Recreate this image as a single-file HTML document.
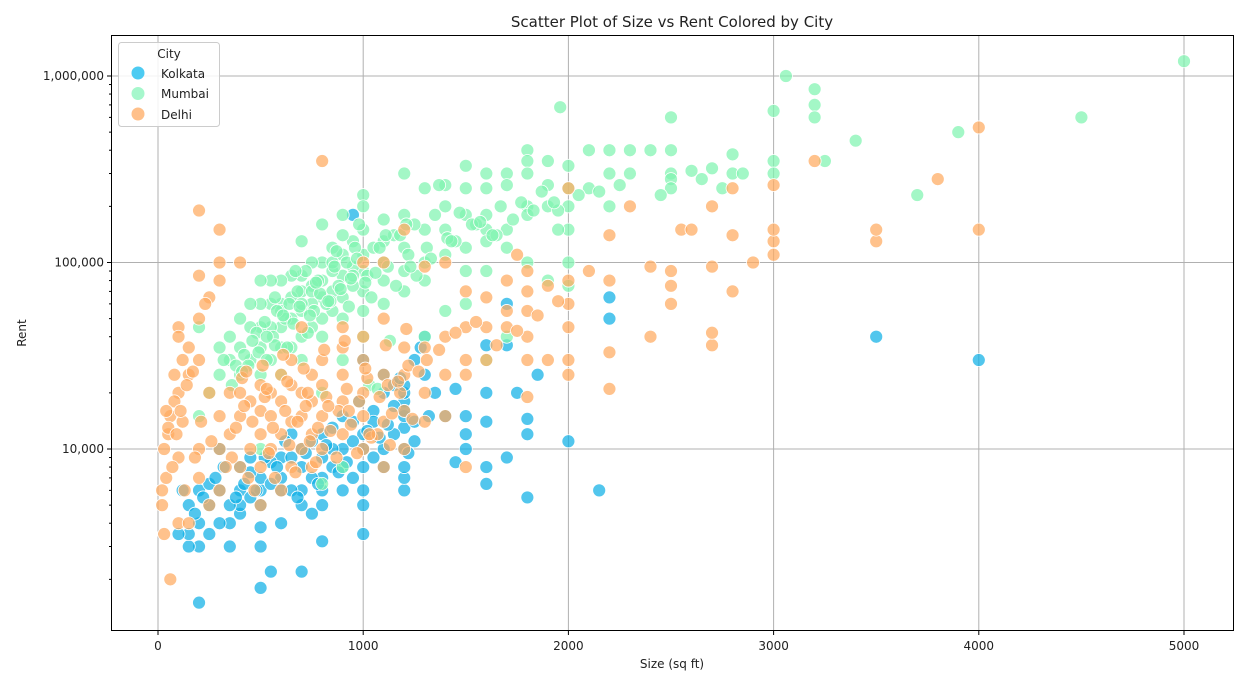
<!DOCTYPE html>
<html><head><meta charset="utf-8"><style>
body{margin:0;background:#fff;font-family:"Liberation Sans","DejaVu Sans",sans-serif;}
svg text{font-family:"DejaVu Sans","Liberation Sans",sans-serif;fill:#222;}
</style></head><body>
<svg id="chart" width="1246" height="680" xmlns="http://www.w3.org/2000/svg">
<text x="672" y="27" text-anchor="middle" font-size="15">Scatter Plot of Size vs Rent Colored by City</text>
<g id="grid"></g>
<g id="pts"></g>
<rect x="111.5" y="35.5" width="1122" height="595" fill="none" stroke="#000" stroke-width="1"/>
<g id="ticks"></g>
<text x="672" y="668" text-anchor="middle" font-size="12">Size (sq ft)</text>
<text x="26" y="333" text-anchor="middle" font-size="12" transform="rotate(-90 26 333)">Rent</text>
<g>
<rect x="118.5" y="42.5" width="101" height="84" rx="3" fill="#fff" fill-opacity="0.85" stroke="#ccc"/>
<text x="169" y="58" text-anchor="middle" font-size="12">City</text>
<circle cx="138" cy="73" r="6.5" fill="#4dcbf2"/>
<text x="161" y="78" font-size="12">Kolkata</text>
<circle cx="138" cy="93.5" r="6.5" fill="#a6f7cc"/>
<text x="161" y="98" font-size="12">Mumbai</text>
<circle cx="138" cy="114" r="6.5" fill="#ffc08a"/>
<text x="161" y="119" font-size="12">Delhi</text>
</g>
</svg>
<script>
const xTicks=[0,1000,2000,3000,4000,5000];
const yTicks=[10000,100000,1000000];
const yTickLabels=["10,000","100,000","1,000,000"];
const kolkataSize=[200,500,550,700,800,1000,2000,2150,2200,2200,3500,4000,1800,1600,1600,1700,1500,1500,1500,1600,1600,1800,1800,1750,1850,1700,1700,1600,1450,1450,1400,950,1300,1200,1200,1200,1200,1200,1200,1200,1100,1100,1100,1000,1000,1000,1000,1000,900,900,900,900,800,800,800,800,800,750,700,700,700,700,600,600,600,600,500,500,500,500,500,400,400,400,400,350,350,300,300,300,250,250,200,200,200,150,150,150,120,100,1250,1300,1100,1000,850,650,450,950,1050,1150,
 1200,1200,1200,1250,1250,1150,1150,1050,1050,950,950,850,850,750,750,650,650,550,550,450,450,350,250,180,220,280,320,420,520,620,720,820,920,1020,1120,1220,1320,1350,1280,880,780,680,580,480,380,980,1080,1180];
const kolkataRent=[1500,1800,2200,2200,3200,3500,11000,6000,65000,50000,40000,30000,5500,6500,8000,9000,10000,12000,15000,14000,20000,12000,14500,20000,25000,36000,60000,36000,21000,8500,15000,180000,40000,6000,7000,8000,10000,13000,15000,18000,8000,10000,20000,5000,6000,8000,10000,12000,6000,8000,10000,15000,5000,6000,7000,9000,12000,4500,5000,6000,8000,10000,4000,6000,7000,9000,3000,3800,5000,6000,7000,4500,5000,6000,8000,3000,4000,4000,6000,10000,3500,5000,3000,4000,6000,3000,3500,5000,6000,3500,30000,25000,25000,30000,10000,12000,9000,14000,16000,22000,
 20000,22000,16000,11000,14000,12000,17000,9000,14000,11000,7000,8000,13000,7000,11000,6000,9000,6500,8500,5500,7500,5000,6500,4500,5500,7000,8000,6500,9000,11000,9500,10500,8500,12500,13500,9500,15000,20000,35000,7500,6500,5500,8000,6000,5500,18000,11500,24000];
const mumbaiSize=[1960,3060,5000,4500,3900,3200,3200,3200,3000,3400,3700,3250,3000,3000,2800,2800,2700,2750,2600,2500,2500,2500,2500,2500,2400,2300,2300,2200,2200,2200,2100,2100,2000,2000,2000,2000,2000,1900,1900,1900,1950,1950,1800,1800,1800,1800,1800,1700,1700,1700,1700,1600,1600,1600,1600,1600,1500,1500,1500,1500,1500,1400,1400,1400,1400,1300,1300,1300,1300,1200,1200,1200,1200,1200,1100,1100,1100,1100,1100,1000,1000,1000,1000,1000,1000,1000,950,950,950,900,900,900,900,900,900,850,850,850,850,800,800,800,800,800,800,750,750,750,750,700,700,700,700,700,700,650,650,650,650,600,600,600,600,600,550,550,550,550,500,500,500,500,500,450,450,450,400,400,400,350,350,300,300,250,200,200,2000,1900,1600,1700,1500,1400,1300,1800,1600,900,1000,800,900,800,500,1250,1150,1050,1350,1450,1550,1650,750,850,950,600,700,
 1020,1040,1080,1120,1160,1180,1220,1260,980,960,920,880,860,820,780,760,720,680,640,620,580,560,520,480,460,420,380,360,320,1010,1060,1110,1210,1310,1410,940,890,840,790,740,690,660,610,570,530,490,440,410,1030,930,830,730,630,530,1070,970,870,770,670,570,1130,1230,1330,1430,1530,1630,1730,1830,1930,2050,2150,2250,2450,2650,2850,1370,1470,1570,1670,1770,1870];
const mumbaiRent=[680000,1000000,1200000,600000,500000,850000,700000,600000,650000,450000,230000,350000,350000,300000,380000,300000,320000,250000,310000,600000,400000,300000,280000,250000,400000,400000,300000,400000,300000,200000,250000,400000,330000,250000,200000,150000,100000,350000,200000,260000,190000,150000,400000,350000,300000,200000,180000,300000,260000,150000,120000,300000,250000,180000,150000,130000,330000,250000,180000,120000,90000,260000,200000,150000,110000,250000,150000,100000,80000,300000,180000,120000,90000,70000,170000,130000,100000,80000,60000,230000,200000,150000,110000,90000,70000,55000,130000,95000,75000,180000,140000,110000,85000,65000,50000,120000,90000,70000,55000,160000,100000,80000,65000,50000,40000,100000,75000,60000,45000,130000,85000,70000,55000,40000,30000,85000,65000,50000,35000,80000,60000,45000,35000,25000,80000,60000,45000,30000,80000,60000,45000,35000,25000,60000,45000,30000,50000,35000,25000,40000,30000,35000,25000,20000,45000,15000,75000,80000,30000,40000,60000,55000,40000,100000,90000,30000,40000,20000,8000,6500,10000,160000,140000,120000,180000,130000,160000,140000,70000,100000,85000,55000,60000,
 85000,65000,120000,95000,75000,140000,110000,85000,160000,120000,100000,75000,95000,60000,80000,55000,90000,70000,60000,50000,55000,40000,48000,42000,38000,32000,28000,22000,30000,78000,88000,140000,160000,120000,135000,82000,72000,62000,68000,52000,58000,47000,52000,36000,40000,33000,28000,26000,22000,58000,62000,42000,35000,30000,21000,105000,115000,78000,90000,65000,38000,95000,105000,130000,160000,140000,170000,190000,210000,230000,240000,260000,230000,280000,300000,260000,185000,165000,200000,210000,240000,220000];
const delhiSize=[800,200,300,300,400,200,300,250,230,200,100,100,150,120,80,100,60,50,30,40,20,20,30,60,100,150,100,80,150,200,250,200,200,250,300,300,300,350,350,400,400,400,450,450,500,500,500,500,500,550,550,550,600,600,600,600,650,650,650,650,700,700,700,700,750,750,750,750,800,800,800,800,900,900,900,900,900,1000,1000,1000,1000,1000,1100,1100,1100,1100,1200,1200,1200,1200,1200,1300,1300,1300,1300,1400,1400,1400,1400,1500,1500,1500,1500,1500,1600,1600,1600,1700,1700,1700,1750,1800,1800,1800,1800,1800,1800,1900,1900,2000,2000,2000,2000,2000,2000,2100,2200,2200,2200,2200,2300,2400,2400,2500,2500,2500,2550,2600,2700,2700,2700,2700,2800,2800,2800,2900,3000,3000,3000,3000,3200,3500,3500,3800,4000,4000,1100,1000,50,70,120,180,130,40,
 380,420,460,520,560,620,680,720,780,820,880,920,980,1020,1080,1120,1180,1220,360,440,540,640,740,840,940,1040,1140,1240,410,510,610,710,810,910,1010,1110,1210,1310,90,110,140,170,210,260,330,470,570,670,770,870,970,1070,1170,1270,1370,1450,1550,1650,1750,1850,1950,430,530,630,730,830,930,1030,1130];
const delhiRent=[350000,190000,150000,100000,100000,85000,80000,65000,60000,50000,45000,40000,35000,30000,25000,20000,15000,12000,10000,7000,6000,5000,3500,2000,4000,4000,9000,18000,25000,30000,20000,10000,7000,5000,6000,10000,15000,20000,12000,8000,15000,20000,10000,18000,5000,8000,12000,16000,22000,10000,15000,20000,6000,12000,18000,25000,8000,14000,22000,30000,10000,15000,20000,45000,8000,12000,18000,25000,10000,15000,22000,30000,12000,18000,25000,35000,45000,10000,15000,20000,30000,40000,8000,14000,25000,50000,10000,16000,25000,35000,150000,14000,20000,35000,95000,15000,25000,40000,100000,8000,25000,30000,45000,70000,30000,45000,65000,45000,55000,80000,110000,19000,30000,40000,55000,70000,90000,30000,75000,25000,30000,45000,60000,80000,250000,90000,21000,33000,80000,140000,200000,40000,95000,60000,75000,90000,150000,150000,36000,42000,95000,200000,70000,140000,250000,100000,110000,130000,150000,260000,350000,130000,150000,280000,150000,530000,100000,100000,13000,8000,14000,9000,6000,16000,
 13000,17000,14000,19000,13000,16000,14000,17000,13000,19000,16000,21000,18000,24000,19000,22000,20000,28000,9000,7000,9500,10500,11000,12500,13500,11500,15500,14500,24000,28000,32000,27000,34000,38000,27000,36000,44000,30000,12000,16000,22000,26000,14000,11000,8000,6000,7000,7500,8500,9000,9500,12000,23000,26000,34000,42000,48000,36000,43000,52000,62000,26000,21000,23000,20000,17000,16000,12000,10500];

const X0=158,XS=1026/5000,YD=186.5,Y6=76;
function xPos(v){return X0+v*XS;}
function yPos(v){return Y6+(6-Math.log10(v))*YD;}
const NS="http://www.w3.org/2000/svg";
function mk(t,a,p){const e=document.createElementNS(NS,t);for(const k in a)e.setAttribute(k,a[k]);p.appendChild(e);return e;}
const grid=document.getElementById('grid'),ticks=document.getElementById('ticks'),pts=document.getElementById('pts');
xTicks.forEach(v=>{const x=xPos(v);
 const g=mk('line',{x1:x,x2:x,y1:36,y2:630,stroke:'#b0b0b0','stroke-width':1},grid);
 
 
 mk('line',{x1:x,x2:x,y1:631,y2:635,stroke:'#000'},ticks);
 const t=mk('text',{x:x,y:650,'text-anchor':'middle','font-size':12},ticks);t.textContent=v;
 
 
});
yTicks.forEach((v,i)=>{const y=yPos(v);
 const g=mk('line',{x1:112,x2:1233,y1:y,y2:y,stroke:'#b0b0b0','stroke-width':1},grid);
 
 
 mk('line',{x1:107,x2:111,y1:y,y2:y,stroke:'#000'},ticks);
 const t=mk('text',{x:104,y:y+4,'text-anchor':'end','font-size':12},ticks);t.textContent=yTickLabels[i];
 
 
});
for(let d=3;d<=6;d++)for(let m=2;m<=9;m++){const v=m*Math.pow(10,d);const y=yPos(v);if(y>36&&y<630)mk('line',{x1:109,x2:111,y1:y,y2:y,stroke:'#000'},ticks);}
function series(sz,rt,col,name){sz.forEach((s,i)=>{
 const c=mk('circle',{cx:xPos(s),cy:yPos(rt[i]),r:6.5,fill:col,'fill-opacity':0.72,stroke:'#fff','stroke-width':0.8},pts);
 
 
});}
series(kolkataSize,kolkataRent,'#0fb0e6','point-kolkata');
series(mumbaiSize,mumbaiRent,'#80f4b0','point-mumbai');
series(delhiSize,delhiRent,'#ffaa60','point-delhi');
</script>
</body></html>
